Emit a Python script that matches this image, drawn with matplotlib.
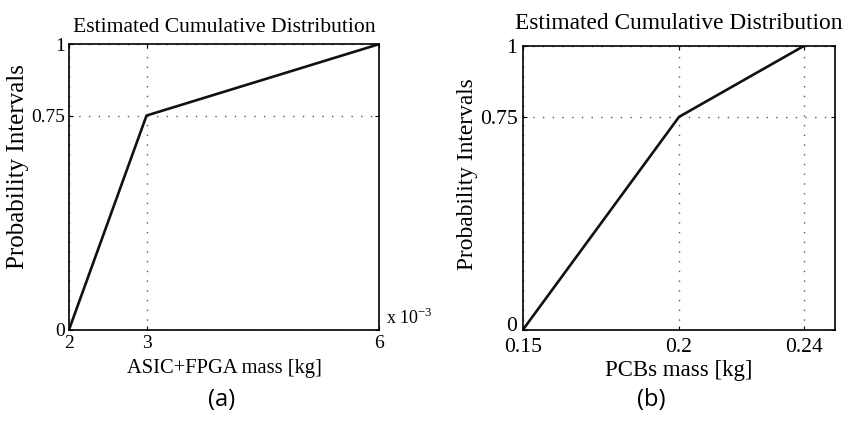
import matplotlib
matplotlib.use("Agg")
import matplotlib.pyplot as plt
import matplotlib.transforms as mtransforms
import numpy as np

plt.rcParams['font.family'] = ['Liberation Serif', 'DejaVu Serif']
plt.rcParams['mathtext.fontset'] = 'custom'
plt.rcParams['mathtext.rm'] = 'Liberation Serif'

# estimated CDF points
prob = [0, 0.75, 1]
asic_mass = [0.002, 0.003, 0.006]   # kg
pcb_mass = [0.15, 0.2, 0.24]        # kg

asic_ticks = [2, 3, 6]
pcb_ticks = [0.15, 0.2, 0.24]
pcb_ticklabels = ['0.15', '0.2', '0.24']
prob_ticks = [0, 0.75, 1]
prob_ticklabels = ['0', '0.75', '1']

fig = plt.figure(figsize=(8.48, 4.23), dpi=100)
ax1 = fig.add_axes([0.0814, 0.2206, 0.3656, 0.675])
ax2 = fig.add_axes([0.6167, 0.2206, 0.368, 0.6707])

grid_style = dict(color='0.35', linestyle=(0, (1, 6)), linewidth=1.0)


def style_axes(ax, fs):
    for sp in ax.spines.values():
        sp.set_linewidth(1.2)
    ax.tick_params(direction='in', length=3, width=0.8, labelsize=fs,
                   top=True, right=True, pad=4)
    ax.set_yticks(prob_ticks)
    ax.set_yticklabels(prob_ticklabels)
    ax.set_ylim(0, 1)
    ax.grid(True, **grid_style)
    ax.set_axisbelow(True)


# (a) ASIC+FPGA
ax1.plot(np.array(asic_mass) * 1e3, prob, color='#111111', lw=1.9)
ax1.set_xlim(2, 6)
ax1.set_xticks(asic_ticks)
ax1.set_xticklabels([str(t) for t in asic_ticks])
style_axes(ax1, 14)
ax1.tick_params(axis='y', pad=3)
ax1.set_title('Estimated Cumulative Distribution', fontsize=15.6, pad=9)
ax1.set_xlabel('ASIC+FPGA mass [kg]', fontsize=14.8, labelpad=5)
ax1.set_ylabel('Probability Intervals', fontsize=18)
ax1.yaxis.set_label_coords(-0.128, 0.57)
fig.text(386 / 848, 1 - 318 / 423, r'x 10$^{-3}$', fontsize=13, va='center', ha='left')

# (b) PCBs
ax2.plot(pcb_mass, prob, color='#111111', lw=1.9)
ax2.set_xlim(0.15, 0.25)
ax2.set_xticks(pcb_ticks)
ax2.set_xticklabels(pcb_ticklabels)
style_axes(ax2, 15.6)
ax2.tick_params(axis='x', pad=6)
ax2.set_title('Estimated Cumulative Distribution', fontsize=16.8, pad=12)
ax2.set_xlabel('PCBs mass [kg]', fontsize=16.4, labelpad=2)
ax2.set_ylabel('Probability Intervals', fontsize=16.8)
ax2.yaxis.set_label_coords(-0.145, 0.55)

# lift the "0" a little so it sits on top of "0.15"
zero_lbl = ax2.get_yticklabels()[0]
zero_lbl.set_transform(zero_lbl.get_transform() +
                       mtransforms.ScaledTranslation(0, 4 / 72, fig.dpi_scale_trans))

fig.text(222 / 848, 1 - 400 / 423, '(a)', fontsize=17, family='Open Sans', ha='center', va='center')
fig.text(651 / 848, 1 - 400 / 423, '(b)', fontsize=17, family='Open Sans', ha='center', va='center')

fig.savefig('out.png', dpi=100)
